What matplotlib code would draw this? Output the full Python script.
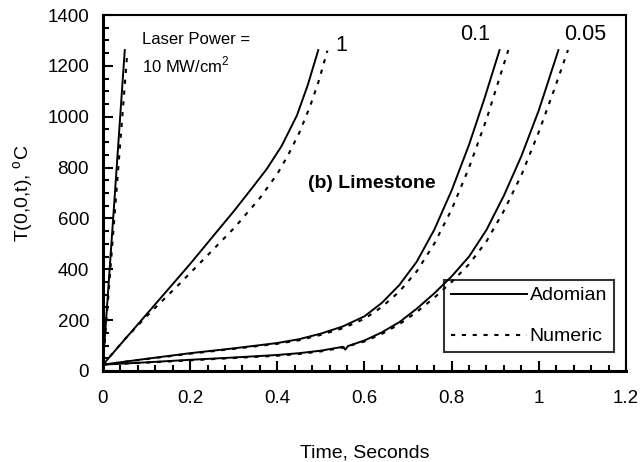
import matplotlib
matplotlib.use("Agg")
import matplotlib.pyplot as plt
from matplotlib.ticker import MultipleLocator

plt.rcParams["font.family"] = ["Liberation Sans", "DejaVu Sans"]
plt.rcParams["mathtext.fontset"] = "custom"
plt.rcParams["mathtext.rm"] = "Liberation Sans"

# laser power 10 MW/cm2
t_p10_ado = [0.0, 0.025, 0.05]
T_p10_ado = [25, 640, 1262]
t_p10_num = [0.0, 0.027, 0.056]
T_p10_num = [25, 620, 1256]

# laser power 1 MW/cm2
t_p1_ado = [0.0, 0.1, 0.2, 0.268, 0.30, 0.34, 0.376, 0.41, 0.445, 0.47, 0.494]
T_p1_ado = [25, 223, 421, 562, 628, 715, 795, 885, 1005, 1125, 1262]
t_p1_num = [0.0, 0.05, 0.1, 0.177, 0.24, 0.303, 0.36, 0.40, 0.425, 0.45, 0.475, 0.495, 0.515]
T_p1_num = [25, 125, 215, 345, 455, 566, 680, 775, 850, 935, 1040, 1140, 1260]

# laser power 0.1 MW/cm2
t_p01_ado = [0.0, 0.1, 0.2, 0.3, 0.4, 0.45, 0.5, 0.55, 0.6, 0.64, 0.68, 0.72, 0.76, 0.8, 0.84, 0.875, 0.91]
T_p01_ado = [25, 48, 70, 89, 110, 125, 147, 175, 215, 268, 338, 430, 555, 710, 890, 1070, 1262]
t_p01_num = [0.0, 0.1, 0.2, 0.3, 0.4, 0.45, 0.5, 0.55, 0.6, 0.64, 0.68, 0.72, 0.76, 0.8, 0.84, 0.88, 0.93]
T_p01_num = [25, 47, 68, 87, 107, 121, 142, 168, 205, 252, 312, 392, 500, 635, 800, 990, 1262]

# laser power 0.05 MW/cm2
t_p005_ado = [0.0, 0.1, 0.2, 0.3, 0.4, 0.45, 0.5, 0.55, 0.556, 0.562, 0.6, 0.64, 0.68, 0.72,
              0.76, 0.8, 0.84, 0.88, 0.92, 0.96, 1.0, 1.045]
T_p005_ado = [25, 34, 44, 53, 63, 70, 80, 95, 84, 98, 120, 152, 192, 245,
              305, 372, 450, 555, 690, 845, 1025, 1262]
t_p005_num = [0.0, 0.1, 0.2, 0.3, 0.4, 0.45, 0.5, 0.55, 0.6, 0.64, 0.68, 0.72, 0.76, 0.8,
              0.84, 0.88, 0.92, 0.96, 1.0, 1.035, 1.067]
T_p005_num = [25, 33, 42, 51, 60, 67, 77, 92, 116, 146, 184, 232, 288, 350,
              420, 510, 630, 770, 940, 1105, 1262]

curve_labels = ["1", "0.1", "0.05"]
curve_label_x = [0.546, 0.854, 1.106]
curve_label_y = [1282, 1325, 1325]

fig = plt.figure(figsize=(6.42, 4.62), dpi=100)
ax = fig.add_axes([0.1604, 0.197, 0.8146, 0.7705])

solid = dict(color="black", lw=1.4)
dashed = dict(color="black", lw=1.5, dashes=(2.0, 3.2))

ax.plot(t_p10_ado, T_p10_ado, label="Adomian", **solid)
ax.plot(t_p10_num, T_p10_num, label="Numeric", **dashed)
for t, T in [(t_p1_ado, T_p1_ado), (t_p01_ado, T_p01_ado), (t_p005_ado, T_p005_ado)]:
    ax.plot(t, T, **solid)
for t, T in [(t_p1_num, T_p1_num), (t_p01_num, T_p01_num), (t_p005_num, T_p005_num)]:
    ax.plot(t, T, **dashed)

for lab, x, y in zip(curve_labels, curve_label_x, curve_label_y):
    ax.text(x, y, lab, fontsize=15.5, ha="center", va="center")

ax.text(0.0895, 1302, "Laser Power =", fontsize=12, va="center")
ax.text(0.0895, 1203, r"10 MW/cm$^2$", fontsize=12, va="center")
ax.text(0.47, 739, "(b) Limestone", fontsize=14, fontweight="bold", va="center")

ax.set_xlim(0, 1.2)
ax.set_ylim(0, 1400)
ax.set_xticks([0, 0.2, 0.4, 0.6, 0.8, 1.0, 1.2])
ax.set_xticklabels(["0", "0.2", "0.4", "0.6", "0.8", "1", "1.2"])
ax.set_yticks(range(0, 1401, 200))
ax.xaxis.set_minor_locator(MultipleLocator(0.04))
ax.yaxis.set_minor_locator(MultipleLocator(50))
ax.tick_params(which="both", direction="in", top=False, right=False, width=1.5, labelsize=13.5)
ax.tick_params(which="major", length=7)
ax.tick_params(which="minor", length=4)
ax.tick_params(axis="x", pad=14)
ax.tick_params(axis="y", pad=10)

for side in ["left", "bottom"]:
    ax.spines[side].set_linewidth(2.2)
for side in ["top", "right"]:
    ax.spines[side].set_linewidth(1.5)

ax.set_xlabel("Time, Seconds", fontsize=14, labelpad=27)
ax.set_ylabel(r"T(0,0,t), $^{\rm o}$C", fontsize=14, labelpad=8)

leg = ax.legend(loc="lower left", bbox_to_anchor=(0.652, 0.053),
                borderaxespad=0, fontsize=14, handlelength=3.9,
                handletextpad=0.15, labelspacing=1.2, borderpad=0.35,
                fancybox=False, frameon=True)
leg.get_frame().set_edgecolor("black")
leg.get_frame().set_linewidth(1.5)
leg.get_frame().set_facecolor("none")

fig.savefig("out.png", dpi=100, facecolor="white")
